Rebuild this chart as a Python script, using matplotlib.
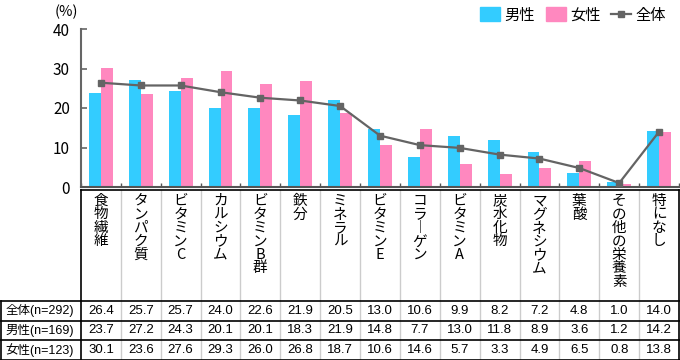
import matplotlib.pyplot as plt
import matplotlib.transforms as mtransforms
from matplotlib.patches import Patch
from matplotlib.lines import Line2D
import numpy as np

plt.rcParams['font.family'] = ['Noto Sans CJK JP', 'DejaVu Sans']

# データ
categories = ['食物繊維', 'タンパク質', 'ビタミンC', 'カルシウム', 'ビタミンB群', '鉄分', 'ミネラル',
              'ビタミンE', 'コラーゲン', 'ビタミンA', '炭水化物', 'マグネシウム', '葉酸', 'その他の栄養素', '特になし']
total = [26.4, 25.7, 25.7, 24.0, 22.6, 21.9, 20.5, 13.0, 10.6, 9.9, 8.2, 7.2, 4.8, 1.0, 14.0]
male = [23.7, 27.2, 24.3, 20.1, 20.1, 18.3, 21.9, 14.8, 7.7, 13.0, 11.8, 8.9, 3.6, 1.2, 14.2]
female = [30.1, 23.6, 27.6, 29.3, 26.0, 26.8, 18.7, 10.6, 14.6, 5.7, 3.3, 4.9, 6.5, 0.8, 13.8]
row_labels = ['全体(n=292)', '男性(n=169)', '女性(n=123)']
series_names = ['男性', '女性', '全体']

c_male = '#33CCFF'
c_female = '#FF88BF'
c_total = '#646464'

W, H = 680, 360
fig = plt.figure(figsize=(W / 100, H / 100), dpi=100)

# 表用の座標（ピクセル）
tab = fig.add_axes([0, 0, 1, 1])
tab.set_xlim(0, W)
tab.set_ylim(H, 0)
tab.axis('off')

ax = fig.add_axes([81 / W, (H - 187) / H, 598 / W, 158 / H])
x = np.arange(len(categories))
bw = 0.3
ax.bar(x - bw / 2, male, bw, color=c_male, zorder=2)
ax.bar(x + bw / 2, female, bw, color=c_female, zorder=2)
ax.plot(x, total, color=c_total, lw=1.6, marker='s', ms=5, zorder=3)

ax.set_xlim(-0.5, len(categories) - 0.5)
ax.set_ylim(0, 40)
ax.set_yticks([0, 10, 20, 30, 40])
ax.set_xticks([])
ax.set_xticks(np.arange(len(categories) + 1) - 0.5, minor=True)
ax.tick_params(axis='x', which='minor', direction='in', length=3, color='#555555', width=1)
ax.tick_params(axis='y', direction='in', length=4, color='#666666', width=1.2, labelsize=11, pad=8)
for s in ['top', 'right']:
    ax.spines[s].set_visible(False)
ax.spines['left'].set_color('#666666')
ax.spines['left'].set_linewidth(1.5)
ax.spines['bottom'].set_color('#555555')
ax.spines['bottom'].set_linewidth(1.5)
ax.patch.set_alpha(0)

fig.text(55 / W, 1 - 12 / H, '(%)', fontsize=10.5, va='center', ha='left')

handles = [Patch(color=c_male), Patch(color=c_female),
           Line2D([0], [0], color=c_total, lw=1.6, marker='s', ms=5)]
fig.legend(handles, series_names, loc='upper right', bbox_to_anchor=(1.0, 1.02), ncol=3,
           frameon=False, fontsize=11, handlelength=1.3, handleheight=1.0, handletextpad=0.3,
           columnspacing=0.7)

# 表
bt = mtransforms.blended_transform_factory(ax.transData, tab.transData)
y_top, y_head, y_bot = 189.5, 301, 359.5
row_y = [301, 320.5, 340, 359.5]
n = len(categories)

for i in range(1, n):
    tab.plot([i - 0.5, i - 0.5], [y_top, y_bot], color='#cccccc', lw=1, transform=bt)
tab.plot([-0.5, n - 0.5], [y_top, y_top], color='black', lw=1.2, transform=bt)
tab.plot([-0.5, -0.5], [y_top, y_bot], color='black', lw=1.2, transform=bt)
tab.plot([n - 0.5, n - 0.5], [y_top, y_bot], color='black', lw=1.2, transform=bt)
for yy in row_y:
    tab.plot([0.5, W], [yy, yy], color='black', lw=1.2)
tab.plot([0.8, 0.8], [row_y[0], y_bot], color='black', lw=1.2)

for i, name in enumerate(categories):
    vert = '\n'.join(name.replace('ー', '︱'))
    tab.text(i, 194, vert, transform=bt, ha='center', va='top', fontsize=10.5,
             linespacing=0.95)

for r, (lab, vals) in enumerate(zip(row_labels, [total, male, female])):
    yc = (row_y[r] + row_y[r + 1]) / 2
    tab.text(40, yc, lab, ha='center', va='center', fontsize=9,
             family=['Liberation Sans', 'Noto Sans CJK JP'])
    for i, v in enumerate(vals):
        tab.text(i, yc, f'{v:.1f}', transform=bt, ha='center', va='center', fontsize=9.5,
                 family=['Liberation Sans'])

fig.savefig('out.png', dpi=100)
